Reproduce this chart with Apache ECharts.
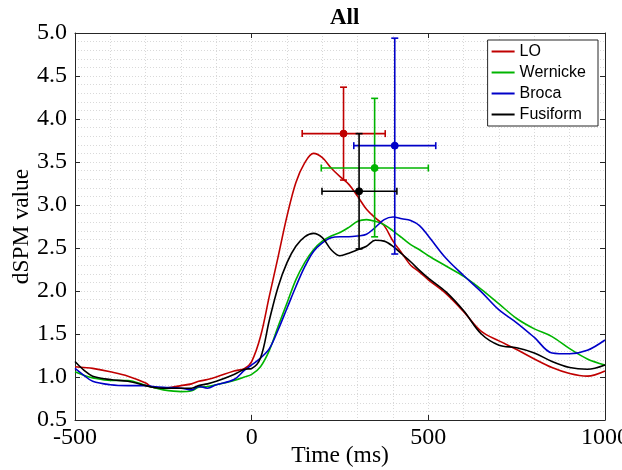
<!DOCTYPE html>
<html>
<head>
<meta charset="utf-8">
<script src="https://cdn.jsdelivr.net/npm/echarts@6/dist/echarts.min.js"></script>
<style>
  html, body { margin: 0; padding: 0; background: #fff; }
  #chart { width: 622px; height: 470px; }
</style>
</head>
<body>
<div id="chart"></div>
<script>
// time axis (ms), shared by all four curves
const times = [-500, -475, -450, -400, -350, -300, -280, -250, -200, -170, -150, -125, -100, -50, -20, 0,
  25, 50, 75, 100, 125, 150, 175, 200, 225, 250, 275, 300, 325, 350, 375, 400, 425, 450, 475, 500,
  550, 600, 650, 700, 750, 800, 850, 900, 950, 1000]

const seriesNames = ['LO', 'Wernicke', 'Broca', 'Fusiform']
const seriesColors = ['#c00000', '#00b400', '#0000c8', '#000000']

const loValues = [1.12, 1.11, 1.10, 1.06, 1.01, 0.93, 0.88, 0.87, 0.90, 0.92, 0.95, 0.97, 1.00, 1.07, 1.10, 1.18,
  1.47, 1.94, 2.40, 2.87, 3.26, 3.49, 3.60, 3.55, 3.43, 3.33, 3.24, 3.10, 2.95, 2.85, 2.76, 2.58, 2.44, 2.30, 2.22, 2.13,
  1.97, 1.76, 1.53, 1.42, 1.32, 1.21, 1.11, 1.04, 1.01, 1.07]
const wernickeValues = [1.06, 1.02, 0.99, 0.96, 0.96, 0.90, 0.88, 0.85, 0.83, 0.84, 0.88, 0.89, 0.91, 0.96, 1.00, 1.03,
  1.12, 1.31, 1.59, 1.86, 2.13, 2.33, 2.48, 2.58, 2.64, 2.68, 2.74, 2.81, 2.83, 2.81, 2.77, 2.70, 2.62, 2.54, 2.48, 2.41,
  2.29, 2.17, 2.02, 1.85, 1.68, 1.56, 1.47, 1.33, 1.21, 1.14]
const brocaValues = [1.10, 1.02, 0.95, 0.91, 0.90, 0.90, 0.89, 0.88, 0.87, 0.85, 0.89, 0.87, 0.91, 0.97, 1.08, 1.14,
  1.22, 1.33, 1.55, 1.80, 2.05, 2.28, 2.46, 2.56, 2.62, 2.63, 2.63, 2.64, 2.66, 2.74, 2.83, 2.86, 2.84, 2.82, 2.76, 2.64,
  2.38, 2.18, 1.99, 1.78, 1.63, 1.46, 1.28, 1.27, 1.31, 1.43]
const fusiformValues = [1.18, 1.08, 1.01, 0.97, 0.95, 0.90, 0.88, 0.87, 0.87, 0.87, 0.90, 0.92, 0.95, 1.03, 1.09, 1.10,
  1.22, 1.66, 2.05, 2.33, 2.52, 2.63, 2.67, 2.62, 2.48, 2.41, 2.44, 2.48, 2.52, 2.59, 2.58, 2.52, 2.43, 2.34, 2.24, 2.15,
  1.99, 1.77, 1.50, 1.37, 1.34, 1.28, 1.18, 1.11, 1.09, 1.14]

// peak error bars: centre and extents, one entry per region
const errT = [260, 348, 405, 304]
const errV = [3.83, 3.43, 3.69, 3.16]
const errTLow = [143, 197, 289, 199]
const errTHigh = [378, 500, 521, 411]
const errVLow = [3.29, 2.63, 2.43, 2.49]
const errVHigh = [4.37, 4.24, 4.94, 3.83]

const xTicks = [-500, 0, 500, 1000]
const yTicks = [0.5, 1.0, 1.5, 2.0, 2.5, 3.0, 3.5, 4.0, 4.5, 5.0]

const allValues = [loValues, wernickeValues, brocaValues, fusiformValues]

const serif = 'Liberation Serif'
const axisColor = '#262626'
const gridDots = { color: '#d9d9d9', type: [1, 2], width: 1 }

const chart = echarts.init(document.getElementById('chart'))

const lineSeries = seriesNames.map((name, i) => ({
  type: 'line',
  name,
  data: times.map((t, k) => [t, allValues[i][k]]),
  symbol: 'none',
  smooth: 0.35,
  lineStyle: { color: seriesColors[i], width: 1.6 },
  itemStyle: { color: seriesColors[i] },
  z: 3,
}))

const errSeries = {
  type: 'custom',
  name: 'peaks',
  data: errT.map((t, i) => [t, errV[i], errTLow[i], errTHigh[i], errVLow[i], errVHigh[i], i]),
  encode: { x: 0, y: 1 },
  z: 5,
  renderItem: (params, api) => {
    const c = api.coord([api.value(0), api.value(1)])
    const l = api.coord([api.value(2), api.value(1)])
    const r = api.coord([api.value(3), api.value(1)])
    const b = api.coord([api.value(0), api.value(4)])
    const tp = api.coord([api.value(0), api.value(5)])
    const color = seriesColors[api.value(6)]
    const st = { stroke: color, lineWidth: 1.6 }
    const cap = 3.5
    const seg = (x1, y1, x2, y2) => ({ type: 'line', shape: { x1, y1, x2, y2 }, style: st })
    return {
      type: 'group',
      children: [
        seg(l[0], l[1], r[0], r[1]),
        seg(b[0], b[1], tp[0], tp[1]),
        seg(l[0], l[1] - cap, l[0], l[1] + cap),
        seg(r[0], r[1] - cap, r[0], r[1] + cap),
        seg(b[0] - cap, b[1], b[0] + cap, b[1]),
        seg(tp[0] - cap, tp[1], tp[0] + cap, tp[1]),
        { type: 'circle', shape: { cx: c[0], cy: c[1], r: 3.5 }, style: { fill: color, stroke: color } },
      ],
    }
  },
}

const boxAxis = (position) => ({
  type: 'value',
  position,
  axisLine: { show: true, onZero: false, lineStyle: { color: axisColor, width: 1 } },
  axisTick: { show: true, inside: true, length: 5, lineStyle: { color: axisColor } },
  axisLabel: { show: false },
  splitLine: { show: false },
})

const option = {
  animation: false,
  backgroundColor: '#fff',
  title: {
    text: 'All',
    left: 325,
    top: 2,
    textStyle: { fontFamily: serif, fontSize: 23, fontWeight: 'bold', color: '#000' },
  },
  legend: {
    data: seriesNames,
    orient: 'vertical',
    right: 24,
    top: 40,
    icon: 'rect',
    backgroundColor: '#fff',
    borderColor: axisColor,
    borderWidth: 1,
    borderRadius: 0,
    padding: [3, 12, 3, 4],
    itemGap: 4,
    itemWidth: 23,
    itemHeight: 2,
    textStyle: { fontFamily: 'Liberation Sans', fontSize: 16, color: '#000', lineHeight: 17 },
  },
  grid: { left: 75, right: 17, top: 33, bottom: 50, containLabel: false, outerBoundsMode: 'none' },
  xAxis: [
    {
      type: 'value',
      min: xTicks[0],
      max: xTicks[xTicks.length - 1],
      interval: 500,
      position: 'bottom',
      axisLine: { show: true, onZero: false, lineStyle: { color: axisColor, width: 1 } },
      axisTick: { show: true, inside: true, length: 5, lineStyle: { color: axisColor } },
      axisLabel: { fontFamily: serif, fontSize: 24, color: '#000', margin: 6, formatter: (v) => String(v) },
      splitLine: { show: true, lineStyle: gridDots },
      minorTick: { show: false, splitNumber: 5 },
      minorSplitLine: { show: true, lineStyle: gridDots },
      name: 'Time (ms)',
      nameLocation: 'middle',
      nameMoveOverlap: false,
      nameGap: 24,
      nameTextStyle: { fontFamily: serif, fontSize: 23.5, color: '#000' },
    },
    Object.assign(boxAxis('top'), { min: xTicks[0], max: xTicks[xTicks.length - 1], interval: 500 }),
  ],
  yAxis: [
    {
      type: 'value',
      min: yTicks[0],
      max: yTicks[yTicks.length - 1],
      interval: 0.5,
      position: 'left',
      axisLine: { show: true, onZero: false, lineStyle: { color: axisColor, width: 1 } },
      axisTick: { show: true, inside: true, length: 5, lineStyle: { color: axisColor } },
      axisLabel: { fontFamily: serif, fontSize: 24, color: '#000', margin: 8, formatter: (v) => v.toFixed(1) },
      splitLine: { show: true, lineStyle: gridDots },
      minorTick: { show: false, splitNumber: 5 },
      minorSplitLine: { show: true, lineStyle: gridDots },
      name: 'dSPM value',
      nameLocation: 'middle',
      nameMoveOverlap: false,
      nameGap: 41,
      nameRotate: 90,
      nameTextStyle: { fontFamily: serif, fontSize: 23.5, color: '#000' },
    },
    Object.assign(boxAxis('right'), { min: yTicks[0], max: yTicks[yTicks.length - 1], interval: 0.5 }),
  ],
  series: [...lineSeries, errSeries],
}

chart.setOption(option)
</script>
</body>
</html>
